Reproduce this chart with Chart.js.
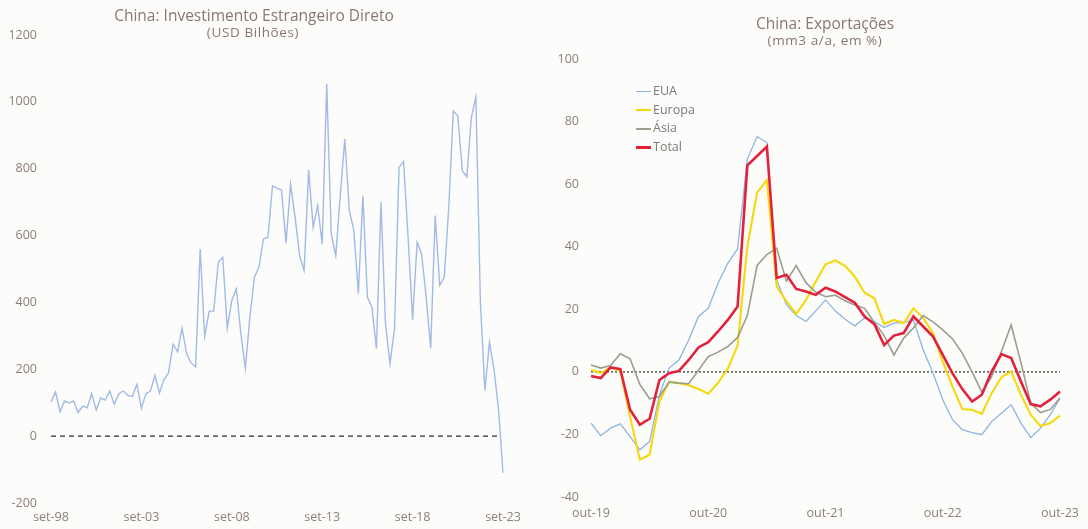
<!DOCTYPE html>
<html>
<head>
<meta charset="utf-8">
<script src="https://cdn.jsdelivr.net/npm/chart.js@4.4.0/dist/chart.umd.min.js"></script>
<style>
html,body{margin:0;padding:0;background:#fcfcfa;}
#wrap{position:relative;width:1088px;height:529px;overflow:hidden;font-family:"Open Sans",sans-serif;}
.box{position:absolute;top:0;width:544px;height:529px;}
.t{position:absolute;white-space:nowrap;transform:translateX(-50%);color:#8a776f;text-align:center;}
.t1{font-size:15.5px;line-height:20px;}
.t2{font-size:13.5px;line-height:17px;letter-spacing:0.6px;}
#legend{position:absolute;left:636px;top:82px;font-size:12.5px;color:#7d7a78;}
#legend .row{height:18.7px;line-height:18.7px;display:flex;align-items:center;}
#legend .mk{display:inline-block;width:15px;margin-right:2px;}
</style>
</head>
<body>
<div id="wrap">
  <div class="box" style="left:0"><canvas id="c1" width="544" height="529"></canvas></div>
  <div class="box" style="left:544px"><canvas id="c2" width="544" height="529"></canvas></div>
  <div class="t t1" style="left:254px;top:5px">China: Investimento Estrangeiro Direto</div>
  <div class="t t2" style="left:253px;top:23.5px">(USD Bilhões)</div>
  <div class="t t1" style="left:825px;top:13px">China: Exportações</div>
  <div class="t t2" style="left:825px;top:31.5px">(mm3 a/a, em %)</div>
  <div id="legend"></div>
</div>
<script>
// ---------- data ----------
const monthAbbr = ['jan','fev','mar','abr','mai','jun','jul','ago','set','out','nov','dez'];

// China FDI, quarterly, set-98 .. set-23 (USD bilhões)
const fdiValues = [
  102,132,73,105,99,105,70,90,85,127,
  78,114,108,135,95,127,135,122,119,155,
  83,127,135,182,129,169,189,275,252,323,
  247,219,207,560,298,374,374,520,535,323,
  406,441,307,202,356,475,505,590,595,749,
  742,736,577,754,655,540,496,796,625,690,
  575,1053,605,540,720,889,675,615,426,719,
  416,386,262,700,336,217,321,804,822,595,
  348,580,545,416,262,660,451,475,684,973,
  958,794,776,953,1015,400,137,281,200,81,
  -110
];

// China exports, monthly, out-19 .. out-23 (mm3 a/a, %)
const exportNames = ['EUA','Europa','Ásia','Total'];
const euaValues = [
  -16.4,-20.4,-18,-16.6,-20.7,-24.9,-22.3,-7.4,1.2,3.8,
  10.2,17.7,20.3,28.3,34.7,39.3,68,75.2,73.3,29.4,
  21.5,18,16.1,19.5,23,19.5,16.8,14.7,17.2,16,
  14.2,15.6,15.8,16.5,7,-0.4,-8.9,-15.3,-18.5,-19.4,
  -20.1,-15.9,-13.2,-10.5,-16.4,-21,-18,-13.7,-8.4
];
const europaValues = [
  0.6,-0.4,1.5,0.3,-14.3,-28.1,-26.5,-9.5,-3.1,-3.6,
  -4.3,-5.5,-7,-3.5,1,8.4,40,57.3,61.3,27.3,
  22.5,18.5,23,28.8,34.4,35.6,33.9,30.4,25.3,23.5,
  15.3,16.6,15.6,20.3,17.2,12.4,3.3,-4.7,-11.9,-12.1,
  -13.4,-6.8,-1.7,0.1,-7.3,-13.7,-17.3,-16.4,-14
];
const asiaValues = [
  2.2,1.2,2.0,5.8,4.2,-4,-8.6,-7.9,-3.3,-3.6,
  -3.8,0.5,4.9,6.3,8.1,11,18,34,37.5,39.5,
  29,34,28.5,25.5,24,24.5,22.7,21.4,20.3,15.8,
  11.6,5.4,10.8,14,18,16,13.4,10.5,6,0,
  -6.5,-1.5,6.5,15,3,-10,-13,-12,-8.4
];
const totalValues = [
  -1.3,-2,1.4,0.9,-12.1,-16.9,-15,-2.6,-0.4,0.3,
  3.8,7.8,9.5,12.9,16.6,20.9,66,69,72,30,
  31,26.5,25.7,24.6,26.9,25.7,23.9,22.1,17.7,15.2,
  8.6,11.6,12.4,17.7,14.5,11.3,5.4,-0.5,-5.5,-9.5,
  -7.3,0.1,5.7,4.4,-3.1,-10.3,-11,-8.9,-6.3
];

// ---------- labels ----------
function makeLabels(startYear, startMonth, count, step) {
  const out = [];
  for (let k = 0; k < count; k++) {
    const tot = startMonth + k * step;
    const y = startYear + Math.floor(tot / 12);
    const m = tot % 12;
    out.push(monthAbbr[m] + '-' + String(y % 100).padStart(2, '0'));
  }
  return out;
}
const fdiLabels = makeLabels(1998, 8, fdiValues.length, 3);
const exportLabels = makeLabels(2019, 9, totalValues.length, 1);

// ---------- styles ----------
const tickColor = '#8e7f76';
const seriesStyle = {
  'EUA':    {color:'#8db4e2', width:1.3, order:3},
  'Europa': {color:'#f6d80c', width:2.1, order:2},
  'Ásia':   {color:'#9a9e8e', width:1.6, order:1},
  'Total':  {color:'#e4213d', width:2.6, order:0}
};
const exportSeries = [euaValues, europaValues, asiaValues, totalValues];

Chart.defaults.font.family = "'Open Sans', sans-serif";
Chart.defaults.font.size = 12.5;
Chart.defaults.color = tickColor;

const zeroLine = {
  id: 'zeroLine',
  beforeDatasetsDraw(chart, args, opts) {
    const y = chart.scales.y.getPixelForValue(0);
    const {left, right} = chart.chartArea;
    const ctx = chart.ctx;
    ctx.save();
    ctx.strokeStyle = opts.color;
    ctx.lineWidth = opts.width;
    ctx.setLineDash(opts.dash);
    ctx.beginPath();
    ctx.moveTo(left, y);
    ctx.lineTo(right - (opts.endGap || 0), y);
    ctx.stroke();
    ctx.restore();
  }
};

function everyN(n) {
  return function(val, idx) { return idx % n === 0 ? this.getLabelForValue(val) : ''; };
}
const plainNumber = v => String(v);

// ---------- left chart ----------
new Chart(document.getElementById('c1'), {
  type: 'line',
  data: {
    labels: fdiLabels,
    datasets: [{
      data: fdiValues,
      borderColor: '#a2bae6',
      borderWidth: 1.4,
      pointRadius: 0,
      tension: 0,
      fill: false
    }]
  },
  options: {
    responsive: false,
    animation: false,
    devicePixelRatio: 1,
    layout: {padding: {left: 0, top: 35, right: 41, bottom: 0}},
    plugins: {
      legend: {display: false},
      tooltip: {enabled: false},
      zeroLine: {color: '#2a2a2a', width: 1.3, dash: [5, 4], endGap: 2}
    },
    scales: {
      x: {
        type: 'category',
        grid: {display: false, drawTicks: false},
        border: {display: false},
        ticks: {autoSkip: false, maxRotation: 0, minRotation: 0, padding: 7, callback: everyN(20)},
        afterFit(s) { s.height = 26; }
      },
      y: {
        min: -200, max: 1200,
        grid: {display: false, drawTicks: false},
        border: {display: false},
        ticks: {stepSize: 200, padding: 14, callback: plainNumber},
        afterFit(s) { s.width = 51; }
      }
    }
  },
  plugins: [zeroLine]
});

// ---------- right chart ----------
new Chart(document.getElementById('c2'), {
  type: 'line',
  data: {
    labels: exportLabels,
    datasets: exportNames.map((name, k) => ({
      label: name,
      data: exportSeries[k],
      borderColor: seriesStyle[name].color,
      borderWidth: seriesStyle[name].width,
      order: seriesStyle[name].order,
      pointRadius: 0,
      tension: 0,
      fill: false
    }))
  },
  options: {
    responsive: false,
    animation: false,
    devicePixelRatio: 1,
    layout: {padding: {left: 0, top: 59, right: 25, bottom: 0}},
    plugins: {
      legend: {display: false},
      tooltip: {enabled: false},
      zeroLine: {color: '#4e5a4c', width: 1.5, dash: [2, 2], endGap: 0}
    },
    scales: {
      x: {
        type: 'category',
        grid: {display: false, drawTicks: false},
        border: {display: false},
        ticks: {autoSkip: false, maxRotation: 0, minRotation: 0, padding: 9, callback: everyN(12)},
        afterFit(s) { s.height = 32; }
      },
      y: {
        min: -40, max: 100,
        grid: {display: false, drawTicks: false},
        border: {display: false},
        ticks: {stepSize: 20, padding: 12, callback: plainNumber},
        afterFit(s) { s.width = 47; }
      }
    }
  },
  plugins: [zeroLine]
});

// ---------- legend (HTML, from series names) ----------
const lg = document.getElementById('legend');
exportNames.forEach(name => {
  const row = document.createElement('div');
  row.className = 'row';
  const mk = document.createElement('span');
  mk.className = 'mk';
  mk.style.height = seriesStyle[name].width + 'px';
  mk.style.background = seriesStyle[name].color;
  const tx = document.createElement('span');
  tx.textContent = name;
  row.appendChild(mk);
  row.appendChild(tx);
  lg.appendChild(row);
});
</script>
</body>
</html>
